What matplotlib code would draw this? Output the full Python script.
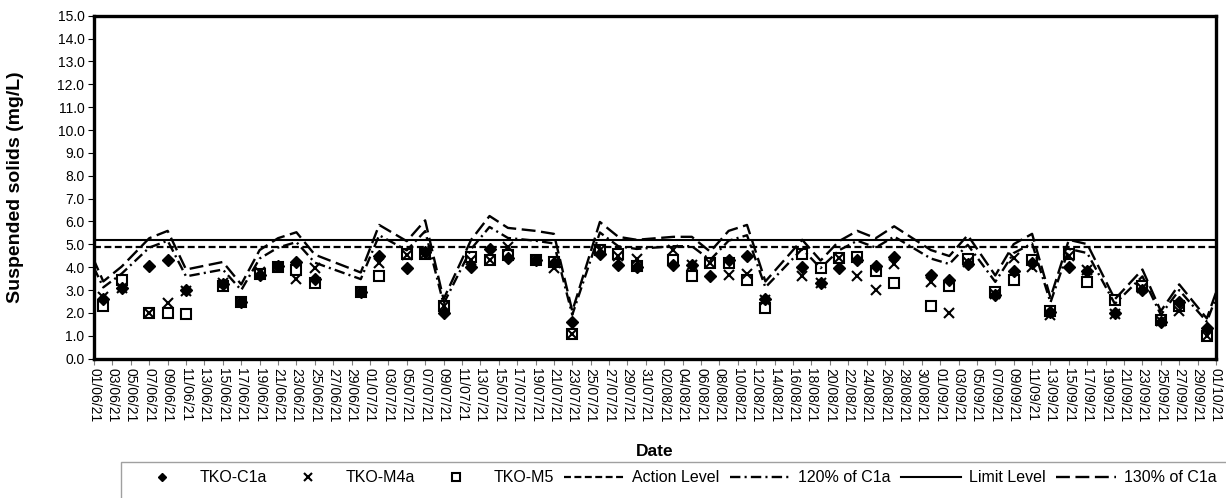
import matplotlib
matplotlib.use("Agg")
import matplotlib.pyplot as plt
from matplotlib.patches import Rectangle
import pandas as pd

plt.rcParams['font.family'] = ['Liberation Sans', 'DejaVu Sans']
plt.rcParams['lines.scale_dashes'] = False

# ---- data ----
dates = ["2021-06-02", "2021-06-04", "2021-06-07", "2021-06-09", "2021-06-11", "2021-06-15",
         "2021-06-17", "2021-06-19", "2021-06-21", "2021-06-23", "2021-06-25", "2021-06-30",
         "2021-07-02", "2021-07-05", "2021-07-07", "2021-07-09", "2021-07-12", "2021-07-14",
         "2021-07-16", "2021-07-19", "2021-07-21", "2021-07-23", "2021-07-26", "2021-07-28",
         "2021-07-30", "2021-08-03", "2021-08-05", "2021-08-07", "2021-08-09", "2021-08-11",
         "2021-08-13", "2021-08-17", "2021-08-19", "2021-08-21", "2021-08-23", "2021-08-25",
         "2021-08-27", "2021-08-31", "2021-09-02", "2021-09-04", "2021-09-07", "2021-09-09",
         "2021-09-11", "2021-09-13", "2021-09-15", "2021-09-17", "2021-09-20", "2021-09-23",
         "2021-09-25", "2021-09-27", "2021-09-30"]

tko_c1a = [2.6, 3.1, 4.05, 4.3, 3.0, 3.25, 2.5, 3.65, 4.05, 4.25, 3.5, 2.9,
           4.5, 3.95, 4.65, 2.0, 4.0, 4.8, 4.4, 4.3, 4.2, 1.6, 4.6, 4.1,
           4.0, 4.1, 4.1, 3.6, 4.3, 4.5, 2.6, 4.0, 3.3, 3.95, 4.3, 4.05,
           4.45, 3.65, 3.45, 4.15, 2.8, 3.85, 4.2, 2.05, 4.0, 3.85, 2.0, 3.0,
           1.6, 2.5, 1.35]

tko_m4a = [2.7, 3.1, 2.0, 2.45, 2.95, 3.3, 2.5, 3.8, 4.0, 3.5, 3.95, 2.9,
           4.2, 4.55, 4.6, 2.3, 4.3, 4.3, 4.9, 4.3, 3.95, 1.1, 4.75, 4.5,
           4.35, 4.75, 4.1, 4.2, 3.65, 3.7, 2.55, 3.6, 3.3, 4.4, 3.6, 3.0,
           4.15, 3.35, 2.0, 4.25, 2.85, 4.4, 4.0, 1.9, 4.5, 3.9, 1.95, 3.1,
           1.65, 2.1, 1.0]

tko_m5 = [2.3, 3.45, 2.0, 2.0, 1.95, 3.2, 2.5, 3.7, 4.0, 3.9, 3.3, 2.9,
          3.6, 4.6, 4.6, 2.3, 4.45, 4.3, 4.55, 4.3, 4.25, 1.1, 4.75, 4.6,
          4.05, 4.3, 3.6, 4.2, 4.2, 3.45, 2.2, 4.6, 3.95, 4.4, 4.45, 3.85,
          3.3, 2.3, 3.2, 4.35, 2.9, 3.45, 4.3, 2.1, 4.6, 3.35, 2.55, 3.2,
          1.7, 2.3, 1.0]

# 120% / 130% of C1a lines (include points just outside the axis range)
ref_dates = ["2021-05-31"] + dates + ["2021-10-02"]
pct120 = [4.8, 3.12, 3.72, 4.86, 5.16, 3.6, 3.9, 3.0, 4.38, 4.86, 5.1, 4.2, 3.48,
          5.4, 4.74, 5.58, 2.4, 4.8, 5.76, 5.28, 5.16, 5.04, 1.92, 5.52, 4.92,
          4.8, 4.92, 4.92, 4.32, 5.16, 5.4, 3.12, 4.8, 3.96, 4.74, 5.16, 4.86,
          5.34, 4.38, 4.14, 4.98, 3.36, 4.62, 5.04, 2.46, 4.8, 4.62, 2.4, 3.6,
          1.92, 3.0, 1.62, 3.72]
pct130 = [5.2, 3.38, 4.03, 5.27, 5.59, 3.9, 4.23, 3.25, 4.75, 5.27, 5.53, 4.55, 3.77,
          5.85, 5.14, 6.05, 2.6, 5.2, 6.24, 5.72, 5.59, 5.46, 2.08, 5.98, 5.33,
          5.2, 5.33, 5.33, 4.68, 5.59, 5.85, 3.38, 5.2, 4.29, 5.14, 5.59, 5.27,
          5.79, 4.75, 4.49, 5.4, 3.64, 5.01, 5.46, 2.67, 5.2, 5.01, 2.6, 3.9,
          2.08, 3.25, 1.76, 4.03]

action_level = 4.9
limit_level = 5.2

x = pd.to_datetime(dates)
xr = pd.to_datetime(ref_dates)
x_start = pd.Timestamp("2021-06-01")
x_end = pd.Timestamp("2021-10-01")
tick_dates = pd.date_range(x_start, x_end, freq="2D")

W, H = 1226, 498
# ---- figure ----
fig = plt.figure(figsize=(W / 100, H / 100), dpi=100)
ax = fig.add_axes([94.1 / W, 1 - 358.7 / H, 1121.9 / W, 343.0 / H])

ax.plot(x, tko_c1a, linestyle='none', marker='D', markersize=5.7,
        color='black', label='TKO-C1a', zorder=4)
ax.plot(x, tko_m4a, linestyle='none', marker='x', markersize=7.5,
        markeredgewidth=1.5, color='black', label='TKO-M4a', zorder=5)
ax.plot(x, tko_m5, linestyle='none', marker='s', markersize=7.5,
        markerfacecolor='none', markeredgecolor='black', markeredgewidth=1.5,
        label='TKO-M5', zorder=6)
ax.axhline(action_level, color='black', lw=1.6, dashes=(5, 2.5), label='Action Level', zorder=3)
ax.plot(xr, pct120, color='black', lw=1.7, dashes=(7.5, 3, 1.5, 3), label='120% of C1a', zorder=3)
ax.axhline(limit_level, color='black', lw=1.5, label='Limit Level', zorder=3)
ax.plot(xr, pct130, color='black', lw=1.7, dashes=(10, 4), label='130% of C1a', zorder=3)

ax.set_xlim(x_start, x_end)
ax.set_ylim(0, 15)
ax.set_yticks([i for i in range(16)])
ax.set_yticklabels([f"{i:.1f}" for i in range(16)], fontsize=10)
ax.set_xticks(tick_dates)
ax.set_xticklabels([d.strftime("%d/%m/%y") for d in tick_dates], rotation=270, fontsize=10)
ax.tick_params(axis='x', direction='out', length=4, width=0.8, color='#808080', pad=3)
ax.tick_params(axis='y', direction='out', length=4, width=0.8, color='black', pad=3)
for s in ax.spines.values():
    s.set_linewidth(2.4)
    s.set_color('black')

ax.set_ylabel("Suspended solids (mg/L)", fontsize=14, fontweight='bold', labelpad=24)
ax.set_xlabel("Date", fontsize=12.5, fontweight='bold', labelpad=15)

# legend frame (extends past the figure edge, as in the reference)
fig.patches.append(Rectangle((121 / W, 1 - 530 / H), 1200 / W, 68 / H,
                             transform=fig.transFigure, fill=False,
                             edgecolor='#a0a0a0', linewidth=1.0, zorder=1))
leg = fig.legend(loc='center left', bbox_to_anchor=(132 / W, 1 - 478 / H),
                 ncol=7, fontsize=11.5, frameon=False, markerscale=0.75,
                 handlelength=3.75, handletextpad=0.5,
                 columnspacing=0.66, borderpad=0, borderaxespad=0)

fig.savefig("out.png", dpi=100)
